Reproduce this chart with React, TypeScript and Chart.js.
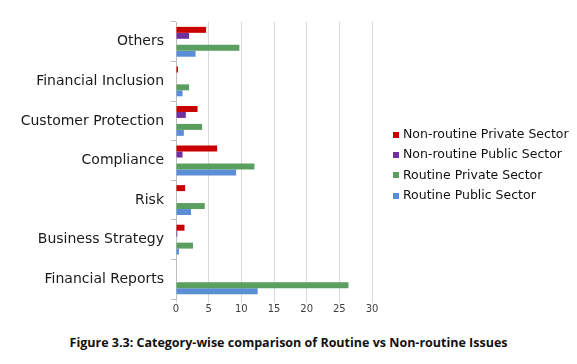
import React, { useEffect, useRef } from "react";
import { Chart, registerables } from "chart.js";

Chart.register(...registerables);

const categories = [
  "Others",
  "Financial Inclusion",
  "Customer Protection",
  "Compliance",
  "Risk",
  "Business Strategy",
  "Financial Reports",
];
const nonRoutinePrivate = [4.6, 0.3, 3.3, 6.3, 1.4, 1.3, 0];
const nonRoutinePublic = [2.0, 0, 1.5, 1.0, 0, 0.2, 0];
const routinePrivate = [9.7, 2.0, 4.0, 12.0, 4.4, 2.6, 26.4];
const routinePublic = [3.0, 1.0, 1.2, 9.2, 2.3, 0.45, 12.5];
const spacer = [null, null, null, null, null, null, null];
const seriesLabels = [
  "Non-routine Private Sector",
  "Non-routine Public Sector",
  "Routine Private Sector",
  "Routine Public Sector",
];
const xMin = 0;
const xMax = 30;
const xStep = 5;
const caption = "Figure 3.3: Category-wise comparison of Routine vs Non-routine Issues";

const sideLegend = {
  id: "sideLegend",
  afterDraw(chart: any) {
    const { ctx, chartArea } = chart;
    const items = chart.data.datasets.filter((d: any) => d.label !== "");
    const x = chartArea.right + 21;
    const pitch = 20.3;
    const midY = (chartArea.top + chartArea.bottom) / 2 + 4.8;
    const startY = midY - (pitch * (items.length - 1)) / 2;
    ctx.save();
    ctx.font = "12.5px 'DejaVu Sans'";
    ctx.textBaseline = "middle";
    ctx.textAlign = "left";
    items.forEach((d: any, i: number) => {
      const y = startY + i * pitch;
      ctx.fillStyle = d.backgroundColor;
      ctx.fillRect(x, Math.round(y - 3), 6, 6);
      ctx.fillStyle = "#111";
      ctx.fillText(d.label, x + 10, y);
    });
    ctx.restore();
  },
};

export default function App() {
  const ref = useRef<HTMLCanvasElement | null>(null);

  useEffect(() => {
    if (!ref.current) return;
    const chart = new Chart(ref.current, {
      type: "bar",
      data: {
        labels: categories,
        datasets: [
          { label: seriesLabels[0], data: nonRoutinePrivate, backgroundColor: "#c80000" },
          { label: seriesLabels[1], data: nonRoutinePublic, backgroundColor: "#7030a0" },
          { label: "", data: spacer as any, backgroundColor: "rgba(0,0,0,0)" },
          { label: seriesLabels[2], data: routinePrivate, backgroundColor: "#5b9f60" },
          { label: seriesLabels[3], data: routinePublic, backgroundColor: "#5b8ed7" },
        ],
      },
      options: {
        indexAxis: "y",
        responsive: false,
        animation: false,
        categoryPercentage: 0.755,
        barPercentage: 1,
        layout: { padding: { left: 8, top: 22, right: 205, bottom: 3 } },
        plugins: {
          tooltip: { enabled: false },
          legend: { display: false },
        },
        scales: {
          x: {
            min: xMin,
            max: xMax,
            ticks: {
              stepSize: xStep,
              color: "#404040",
              padding: 0,
              font: { family: "DejaVu Sans", size: 10 },
            },
            grid: { color: "#d9d9d9", tickLength: 4, lineWidth: 1 },
            border: { display: false },
            afterFit: (s: any) => {
              s.height = 20;
            },
          },
          y: {
            grid: { drawOnChartArea: false, tickLength: 5, color: "#bfbfbf", offset: true },
            border: { display: true, color: "#bfbfbf" },
            ticks: {
              color: "#1a1a1a",
              padding: 7,
              font: { family: "DejaVu Sans", size: 14 },
            },
            afterFit: (s: any) => {
              s.width = 168;
            },
          },
        },
      } as any,
      plugins: [sideLegend],
    });
    return () => chart.destroy();
  }, []);

  return (
    <div style={{ position: "absolute", left: 0, top: 0, width: 577, height: 364, background: "#fff" }}>
      <canvas ref={ref} width={577} height={322} style={{ position: "absolute", left: 0, top: 0 }} />
      <div
        style={{
          position: "absolute",
          left: 0,
          top: 335,
          width: 577,
          textAlign: "center",
          fontFamily: "'Open Sans', sans-serif",
          fontWeight: 700,
          fontSize: 12.5,
          lineHeight: "16px",
          color: "#111",
        }}
      >
        {caption}
      </div>
    </div>
  );
}
